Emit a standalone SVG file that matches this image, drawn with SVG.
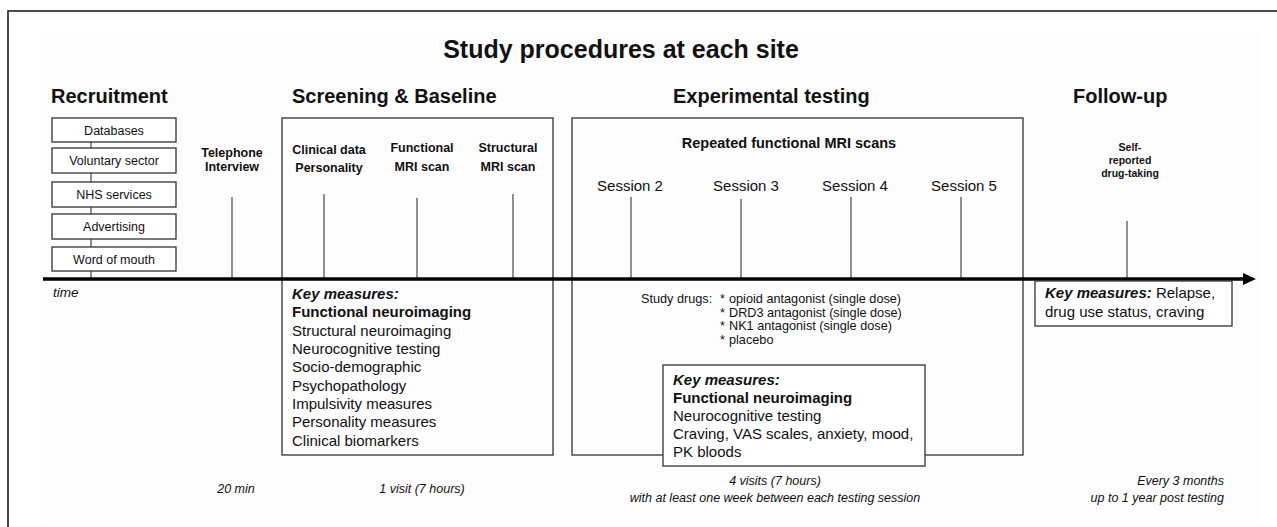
<svg xmlns="http://www.w3.org/2000/svg" width="1277" height="527" viewBox="0 0 1277 527">
<style>
text{font-family:"Liberation Sans",Arial,sans-serif;fill:#111}
.title{font-size:25px;font-weight:bold;text-anchor:middle}
.hdr{font-size:20px;font-weight:bold}
.src{font-size:12.5px;text-anchor:middle}
.lbl{font-size:12.5px;font-weight:bold;text-anchor:middle}
.sml{font-size:10.5px;font-weight:bold;text-anchor:middle}
.ses{font-size:15px;text-anchor:middle}
.km{font-size:15px}
.kmh{font-weight:bold;font-style:italic}
.b{font-weight:bold}
.drug{font-size:12.7px}
.dur{font-size:12.5px;font-style:italic}
.box{fill:#fff;stroke:#333;stroke-width:1.3}
.panel{fill:none;stroke:#333;stroke-width:1.3}
.tick{stroke:#555;stroke-width:1.3;fill:none}
</style>
<rect x="0" y="0" width="1277" height="527" fill="#fff"/>
<path d="M8,540 V11 H1290" fill="none" stroke="#111" stroke-width="1.5"/>
<rect x="41" y="33" width="1219" height="490" fill="#fdfdfd"/>
<text class="title" x="621" y="58">Study procedures at each site</text>
<g id="headers">
<text class="hdr" x="51" y="103">Recruitment</text>
<text class="hdr" x="292" y="103">Screening &amp; Baseline</text>
<text class="hdr" x="673" y="103">Experimental testing</text>
<text class="hdr" x="1073" y="103">Follow-up</text>
</g>
<g id="screening-panel"><rect class="panel" x="282" y="118" width="271" height="337"/></g>
<g id="experimental-panel"><rect class="panel" x="572" y="118" width="451" height="337"/></g>
<g id="connectors">
<line class="tick" x1="91" y1="142" x2="91" y2="148"/>
<line class="tick" x1="91" y1="173" x2="91" y2="182"/>
<line class="tick" x1="91" y1="207" x2="91" y2="214"/>
<line class="tick" x1="91" y1="239" x2="91" y2="247"/>
<line class="tick" x1="91" y1="271" x2="91" y2="279"/>
<line class="tick" x1="232" y1="197" x2="232" y2="279"/>
<line class="tick" x1="324" y1="194" x2="324" y2="279"/>
<line class="tick" x1="417" y1="198" x2="417" y2="279"/>
<line class="tick" x1="513" y1="194" x2="513" y2="279"/>
<line class="tick" x1="631" y1="197" x2="631" y2="279"/>
<line class="tick" x1="741" y1="199" x2="741" y2="279"/>
<line class="tick" x1="851" y1="197" x2="851" y2="279"/>
<line class="tick" x1="961" y1="197" x2="961" y2="279"/>
<line class="tick" x1="1127" y1="221" x2="1127" y2="279"/>
<line x1="43" y1="279" x2="1245" y2="279" stroke="#000" stroke-width="3.5"/>
<polygon points="1243,273 1256,279 1243,285" fill="#000"/>
</g>
<g id="databases"><rect class="box" x="52" y="118" width="124" height="24"/><text class="src" x="114" y="135">Databases</text></g>
<g id="voluntary"><rect class="box" x="52" y="148" width="124" height="25"/><text class="src" x="114" y="165">Voluntary sector</text></g>
<g id="nhs"><rect class="box" x="52" y="182" width="124" height="25"/><text class="src" x="114" y="199">NHS services</text></g>
<g id="advertising"><rect class="box" x="52" y="214" width="124" height="25"/><text class="src" x="114" y="231">Advertising</text></g>
<g id="word-of-mouth"><rect class="box" x="52" y="247" width="124" height="24"/><text class="src" x="114" y="264">Word of mouth</text></g>
<g id="time-label"><text x="53" y="297" style="font-size:13.5px;font-style:italic">time</text></g>
<g id="telephone"><text class="lbl" x="232" y="157">Telephone</text><text class="lbl" x="232" y="171">Interview</text></g>
<g id="clinical"><text class="lbl" x="329" y="154">Clinical data</text><text class="lbl" x="329" y="172">Personality</text></g>
<g id="functional-mri"><text class="lbl" x="422" y="152">Functional</text><text class="lbl" x="422" y="171">MRI scan</text></g>
<g id="structural-mri"><text class="lbl" x="508" y="152">Structural</text><text class="lbl" x="508" y="171">MRI scan</text></g>
<g id="screening-measures">
<text class="km" x="292" y="299"><tspan class="kmh">Key measures:</tspan></text>
<text class="km b" x="292" y="317">Functional neuroimaging</text>
<text class="km" x="292" y="336">Structural neuroimaging</text>
<text class="km" x="292" y="354">Neurocognitive testing</text>
<text class="km" x="292" y="372">Socio-demographic</text>
<text class="km" x="292" y="391">Psychopathology</text>
<text class="km" x="292" y="409">Impulsivity measures</text>
<text class="km" x="292" y="427">Personality measures</text>
<text class="km" x="292" y="446">Clinical biomarkers</text>
</g>
<g id="repeated"><text x="789" y="148" style="font-size:14.5px;font-weight:bold;text-anchor:middle">Repeated functional MRI scans</text></g>
<g id="session2"><text class="ses" x="630" y="191">Session 2</text></g>
<g id="session3"><text class="ses" x="746" y="191">Session 3</text></g>
<g id="session4"><text class="ses" x="855" y="191">Session 4</text></g>
<g id="session5"><text class="ses" x="964" y="191">Session 5</text></g>
<g id="study-drugs">
<text class="drug" x="641" y="303">Study drugs:</text>
<text class="drug" x="720" y="303">*</text><text class="drug" x="729" y="303">opioid antagonist (single dose)</text>
<text class="drug" x="720" y="316.5">*</text><text class="drug" x="729" y="316.5">DRD3 antagonist (single dose)</text>
<text class="drug" x="720" y="330">*</text><text class="drug" x="729" y="330">NK1 antagonist (single dose)</text>
<text class="drug" x="720" y="343.5">*</text><text class="drug" x="729" y="343.5">placebo</text>
</g>
<g id="experimental-measures">
<rect class="box" x="663" y="365" width="262" height="101"/>
<text class="km kmh" x="673" y="385">Key measures:</text>
<text class="km b" x="673" y="403">Functional neuroimaging</text>
<text class="km" x="673" y="421">Neurocognitive testing</text>
<text class="km" x="673" y="439">Craving, VAS scales, anxiety, mood,</text>
<text class="km" x="673" y="457">PK bloods</text>
</g>
<g id="self-reported"><text class="sml" x="1130" y="151">Self-</text><text class="sml" x="1130" y="164">reported</text><text class="sml" x="1130" y="177">drug-taking</text></g>
<g id="followup-measures">
<rect class="box" x="1035" y="281" width="197" height="45"/>
<text class="km" x="1045" y="298"><tspan class="kmh">Key measures:</tspan> Relapse,</text>
<text class="km" x="1045" y="317">drug use status, craving</text>
</g>
<g id="durations">
<text class="dur" x="236" y="493" text-anchor="middle">20 min</text>
<text class="dur" x="422" y="493" text-anchor="middle">1 visit (7 hours)</text>
<text class="dur" x="775" y="485" text-anchor="middle">4 visits (7 hours)</text>
<text class="dur" x="775" y="502" text-anchor="middle">with at least one week between each testing session</text>
<text class="dur" x="1224" y="485" text-anchor="end">Every 3 months</text>
<text class="dur" x="1224" y="502" text-anchor="end">up to 1 year post testing</text>
</g>
</svg>
